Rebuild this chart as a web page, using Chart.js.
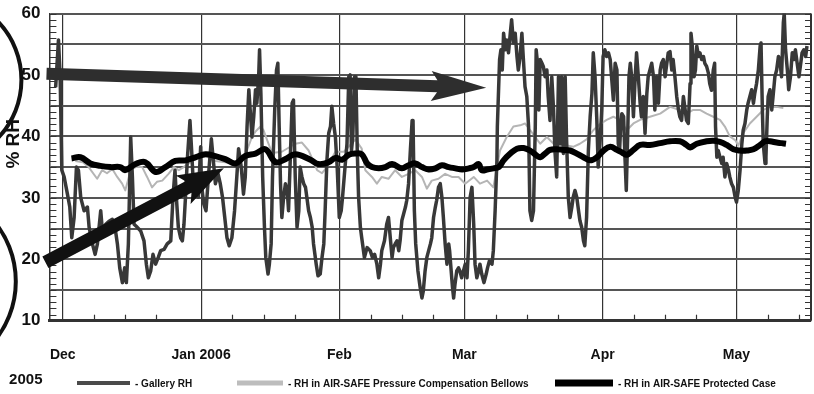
<!DOCTYPE html>
<html>
<head>
<meta charset="utf-8">
<script src="https://cdn.jsdelivr.net/npm/chart.js@4.4.0/dist/chart.umd.min.js"></script>
<style>
  html, body { margin: 0; padding: 0; background: #fff; }
  #wrap { width: 814px; height: 394px; }
</style>
</head>
<body>
<div id="wrap"><canvas id="chart"></canvas></div>
<script>
// x values are days counted from 1 Dec 2005
const monthDays = [0, 31, 62, 90, 121, 151];
const monthLabels = ["Dec", "Jan 2006", "Feb", "Mar", "Apr", "May"];
const weekOffsets = [7, 14, 21];

const galleryDays = [-1.6, -0.97, -0.6, -0.22, 0.3, 1.04, 1.57, 2.01, 2.54, 3.06, 3.5, 4.03, 4.78, 5.52, 5.9, 6.64, 7.24, 7.76, 8.5, 8.88,
  9.63, 10.37, 11.1, 11.7, 12.24, 12.76, 13.36, 13.88, 14.25, 14.7, 15.22, 15.6, 15.97, 16.7, 17.46, 18.2, 18.73, 19.18, 19.7, 20.22,
  20.8, 21.4, 21.94, 22.7, 23.4, 24.2, 24.7, 25.15, 25.45, 25.9, 26.4, 26.8, 27.16, 27.5, 27.9, 28.5, 28.88, 29.4, 29.78, 30.37,
  30.9, 31.06, 31.6, 32.1, 32.7, 33.3, 33.8, 34.2, 34.8, 35.3, 35.8, 36.3, 36.8, 37.3, 37.9, 38.5, 39.1, 39.4, 40.0, 40.5,
  40.9, 41.3, 41.7, 42.0, 42.4, 42.8, 43.2, 43.5, 43.9, 44.1, 44.4, 44.8, 45.2, 45.5, 46.0, 46.3, 46.7, 47.0, 47.5, 47.9,
  48.2, 48.5, 48.8, 49.1, 49.5, 49.9, 50.3, 50.6, 51.0, 51.4, 51.7, 52.1, 52.5, 52.9, 53.2, 53.6, 54.0, 54.4, 54.7, 55.1,
  55.5, 55.9, 56.2, 56.8, 57.2, 57.7, 58.1, 58.5, 58.8, 59.2, 59.6, 60.0, 60.3, 60.7, 61.1, 61.5, 61.97, 62.4, 62.7, 63.2,
  63.7, 64.1, 64.4, 64.7, 65.0, 65.4, 65.7, 66.0, 66.3, 66.7, 67.0, 67.6, 68.2, 68.9, 69.4, 69.9, 70.4, 70.8, 71.2, 71.5,
  72.1, 72.6, 73.0, 73.4, 73.8, 74.1, 74.5, 74.9, 75.3, 75.6, 76.0, 76.4, 76.8, 77.1, 77.5, 77.9, 78.3, 78.5, 78.8, 79.1,
  79.6, 80.1, 80.5, 80.8, 81.2, 81.6, 82.0, 82.4, 82.7, 83.1, 83.5, 83.8, 84.2, 84.6, 84.97, 85.3, 85.7, 86.1, 86.5, 86.7,
  87.05, 87.35, 87.6, 87.9, 88.3, 88.7, 89.0, 89.4, 89.8, 90.2, 90.6, 90.9, 91.3, 91.7, 92.1, 92.4, 92.8, 93.2, 93.5, 93.9,
  94.4, 94.9, 95.2, 95.6, 96.2, 96.5, 96.9, 97.3, 97.4, 97.9, 98.2, 98.5, 98.8, 99.2, 99.5, 99.9, 100.3, 100.6, 101.0, 101.4,
  101.8, 102.1, 102.5, 102.9, 103.2, 103.6, 104.0, 104.4, 104.7, 105.1, 105.5, 105.9, 106.1, 106.4, 106.7, 107.0, 107.4, 107.7, 108.1, 108.5,
  108.8, 109.2, 109.6, 110.0, 110.3, 110.7, 111.1, 111.5, 111.8, 112.2, 112.6, 112.9, 113.3, 113.7, 114.1, 114.4, 114.8, 115.2, 115.6, 115.9,
  116.3, 116.7, 117.0, 117.4, 117.8, 118.2, 118.6, 118.9, 119.3, 119.7, 120.0, 120.4, 120.8, 121.1, 121.5, 121.9, 122.3, 122.7, 123.0, 123.4,
  123.8, 124.2, 124.5, 124.8, 125.0, 125.3, 125.7, 126.0, 126.3, 126.6, 126.9, 127.2, 127.5, 127.9, 128.3, 128.6, 129.0, 129.4, 129.7, 130.1,
  130.5, 130.9, 131.2, 131.6, 132.0, 132.4, 132.7, 133.1, 133.5, 133.9, 134.2, 134.6, 135.0, 135.3, 135.7, 136.1, 136.5, 136.8, 137.2, 137.6,
  138.0, 138.3, 138.7, 139.1, 139.5, 139.8, 140.2, 140.6, 140.8, 141.1, 141.5, 141.8, 142.1, 142.5, 142.8, 143.2, 143.6, 143.9, 144.3, 144.7,
  145.0, 145.4, 145.8, 146.1, 146.3, 146.6, 146.9, 147.3, 147.7, 148.0, 148.4, 148.8, 149.2, 149.5, 149.9, 150.3, 150.7, 151.0, 151.4, 151.8,
  152.2, 152.5, 152.9, 153.3, 153.6, 154.0, 154.4, 154.8, 155.1, 155.5, 155.9, 156.3, 156.5, 156.8, 157.0, 157.4, 157.6, 157.9, 158.1, 158.5,
  158.9, 159.2, 159.6, 160.0, 160.4, 160.7, 161.1, 161.5, 161.7, 162.0, 162.4, 162.7, 163.1, 163.5, 163.9, 164.2, 164.6, 165.0, 165.4, 165.7,
  166.1, 166.5, 166.8];
const galleryRH = [48, 55.7, 50, 34.5, 33.4, 30.6, 28.5, 23.5, 26.8, 35, 34.5, 30, 27.9, 28.5, 25.2, 22.5, 20.8, 22.5, 27.9, 24.6,
  25.7, 26.2, 26.5, 25.2, 22.5, 18.6, 16.2, 18.6, 16.2, 22.5, 39.9, 33.4, 25.7, 25.2, 24.6, 23, 19.2, 17, 18.1, 20.8,
  19.2, 20.3, 21.4, 21.6, 22.5, 23, 30.1, 34.5, 30.1, 25.2, 23.5, 23, 25.7, 30.1, 36.1, 42.6, 37.7, 30.1, 33.4, 30.1,
  38.3, 32.3, 29, 27.9, 34, 39.6, 35.6, 32.3, 33.9, 32.3, 30.1, 26.8, 23.5, 22.2, 23.5, 27.9, 34.5, 38, 35, 30.6,
  33.4, 41.6, 47.6, 44.3, 39.9, 43.2, 47.6, 45.4, 49.7, 54.1, 47, 33.4, 25.2, 20.3, 17.6, 19.2, 22.5, 33.4, 44.3, 50.8,
  51.9, 41.6, 32.3, 26.8, 30.1, 32.3, 31.2, 27.9, 36.6, 45.4, 45.9, 33.4, 25.2, 27.9, 35, 33.4, 32.3, 31.7, 30.1, 27.9,
  26.8, 25.2, 22.5, 19.2, 17.3, 17.6, 20.3, 22.5, 27.9, 36.1, 40.5, 41.6, 44.9, 42.1, 39.9, 35, 26.8, 27.9, 30.1, 34.5,
  38.8, 49.7, 50, 37.7, 39.9, 49.7, 49.7, 37.7, 30.1, 25.2, 23.5, 20.3, 21.9, 21.4, 20.3, 20.8, 19.2, 17, 19.2, 21.4,
  23, 25.7, 26.8, 23.5, 20.3, 21.9, 22.5, 23, 21.4, 23, 26.3, 27.4, 28.5, 29.6, 32.3, 37.7, 42.6, 42.6, 27.9, 22.5,
  18.1, 15.4, 13.7, 14.8, 18.1, 20.3, 21.4, 22.5, 23.5, 26.8, 28.5, 29.6, 31.7, 32.3, 30.1, 26.8, 22.5, 19.2, 22.5, 21.4,
  18.1, 15.4, 13.7, 15.9, 18.1, 18.6, 18.1, 17, 18.1, 19.2, 17, 21.4, 30.1, 31.7, 25.7, 19.2, 17, 18.1, 19.2, 17.6,
  16.2, 17.6, 18.6, 19.7, 19.2, 21.4, 27.9, 36.1, 41.6, 52.5, 54.1, 50.8, 56.8, 54.1, 55.7, 53.6, 56.8, 59, 55.2, 56.8,
  53, 50.8, 53, 56.8, 53, 48.1, 46.5, 41.6, 27.9, 26.3, 27.9, 41.6, 54.1, 51.9, 44.3, 52.5, 51.9, 51.4, 49.7, 50.8,
  46.5, 42.6, 49.7, 44.3, 37.7, 33.4, 49.7, 38.8, 49.7, 37.2, 49.7, 39.9, 30.1, 26.8, 28.5, 30.1, 31.2, 30.1, 27.9, 26.3,
  25.2, 23, 22.2, 26.8, 37.7, 43.2, 47, 53.6, 49.7, 42.6, 35, 38.8, 44.3, 53, 54.1, 53, 53.6, 52.5, 49.7, 45.9,
  51.9, 50.8, 38.8, 37.7, 41, 43.7, 43.2, 36.6, 31.2, 39.9, 49.7, 51.9, 49.7, 43.2, 49.7, 53.6, 49.7, 45.4, 43.2, 46.5,
  40.5, 46.9, 49.7, 50.8, 51.9, 49.7, 44.3, 49.7, 45.4, 50.8, 51.9, 52.5, 49.7, 51.4, 53.6, 53.8, 50.8, 52.5, 49.7, 46.5,
  44.3, 43.2, 42.6, 46.5, 44.3, 42.6, 42.1, 48.6, 56.8, 54.7, 49.7, 50.8, 54.7, 53, 53.6, 52.5, 53, 51.9, 51.4, 50.3,
  48.6, 47.5, 50.8, 51.9, 41.6, 36.6, 37.7, 36.6, 35.6, 36.6, 33.4, 35.6, 34.5, 33.4, 32.3, 31.7, 30.1, 29.3, 31.2, 34.5,
  38.8, 41, 42.1, 44.3, 45.4, 46.5, 47.6, 45.4, 47, 48.6, 50.8, 54.7, 55.2, 44.3, 38.8, 35.6, 36.6, 43.2, 46.5, 47.6,
  44.3, 46.5, 49.7, 50.8, 53, 52.5, 49.7, 58.5, 60, 54.1, 50.8, 47.6, 49.7, 53.6, 52.5, 54.1, 51.9, 49.7, 51.9, 53.6,
  54.1, 53, 54.7];

const bellowsDays = [2.8, 4.5, 5.8, 7.7, 8.8, 9.9, 11.1, 12.2, 13.3, 14.0, 15.2, 16.3, 17.8, 18.9, 20.0, 21.1, 22.3, 23.7, 24.9, 26.0,
  27.1, 28.2, 30.5, 32.0, 34.2, 36.4, 38.7, 40.9, 42.4, 43.2, 44.3, 45.0, 45.8, 46.9, 49.1, 52.1, 53.6, 55.1, 57.0, 58.1,
  59.2, 61.1, 63.0, 65.6, 67.0, 67.8, 69.3, 70.4, 71.5, 73.0, 74.5, 76.0, 77.5, 79.0, 80.5, 81.6, 82.7, 84.2, 85.7, 87.2,
  88.7, 90.2, 92.1, 93.5, 95.1, 96.5, 98.0, 99.5, 101.0, 102.5, 103.6, 105.3, 107.0, 108.5, 110.0, 111.5, 113.0, 114.4, 115.9, 117.4,
  118.9, 120.4, 121.9, 123.4, 124.9, 126.4, 127.9, 129.4, 131.6, 133.9, 136.1, 138.3, 139.8, 141.3, 142.8, 144.3, 145.8, 147.3, 148.4, 149.5,
  150.7, 151.4, 152.5, 154.0, 155.5, 157.0, 158.5, 160.0, 161.5];
const bellowsRH = [36, 35.8, 35, 33.1, 34.5, 34, 34.7, 33.4, 32.3, 31.2, 34.5, 35, 35, 33.4, 31.7, 32.6, 32.8, 33.9, 35, 34.5,
  35, 35.6, 36.6, 36.8, 36, 35.8, 35.5, 37, 39.9, 40.8, 41.6, 41, 39.4, 37.3, 37.5, 38.8, 39, 37.7, 34.5, 34,
  35, 37.5, 37.5, 39.5, 38, 34.5, 33.4, 32.3, 33.4, 33.1, 34.5, 33.4, 33.9, 34.5, 33.4, 31.5, 32.8, 33.1, 33.9, 33.4,
  33.4, 32.3, 33.4, 32.3, 32.8, 31.7, 37.7, 39.9, 41.6, 41.8, 42.1, 40.5, 38.8, 39.9, 38.8, 38.3, 38.5, 38.3, 38.8, 39.5,
  41, 42, 42.7, 43.2, 42.7, 41, 42.1, 42.7, 43.2, 43.7, 44.8, 44.3, 43.7, 44.3, 44.3, 43.7, 43.2, 42.7, 41.6, 40,
  39.4, 38.5, 40.5, 42.1, 43.2, 44.3, 44.8, 44.8, 44.6];

const caseDays = [1.95, 3.96, 6.2, 8.4, 10.7, 12.9, 14.0, 16.3, 18.5, 20.8, 23.0, 25.2, 27.5, 29.7, 32.0, 34.2, 36.4, 38.7, 40.9, 43.2,
  45.4, 47.7, 49.9, 52.1, 55.5, 57.3, 59.6, 61.1, 62.6, 64.1, 65.6, 67.0, 68.2, 69.3, 70.8, 72.3, 73.8, 76.0, 77.5, 79.0,
  80.5, 82.0, 83.5, 85.0, 86.5, 88.0, 89.5, 91.0, 92.1, 93.2, 93.9, 95.1, 96.5, 97.7, 98.8, 100.3, 101.8, 103.3, 104.7, 106.2,
  107.0, 108.1, 109.2, 110.7, 112.2, 113.7, 115.2, 116.7, 118.2, 119.7, 121.2, 122.7, 124.2, 125.5, 126.4, 127.9, 129.4, 131.6, 133.9, 136.1,
  138.3, 139.8, 140.6, 142.1, 144.3, 145.8, 147.3, 148.8, 150.3, 151.8, 153.3, 154.8, 156.3, 157.4, 158.5, 160.0, 161.1, 162.1];
const caseRH = [36.4, 36.6, 35.6, 35.2, 35, 35, 34.5, 35.5, 35.8, 34.2, 35, 36, 36.1, 36.6, 37.1, 36.8, 36.3, 35.6, 36.8, 37.2,
  37.9, 35.8, 36.3, 37.1, 36.2, 35.5, 35.8, 36.5, 36.2, 37, 37.2, 37.1, 35.6, 35, 34.8, 35, 35.5, 34.8, 35.3, 35.6,
  35, 34.6, 34.8, 35.3, 35, 34.8, 34.6, 34.8, 35, 35.5, 34.5, 34.6, 34.8, 35, 36.1, 37.2, 38, 38.1, 37.7, 36.9,
  36.6, 37.2, 37.8, 37.9, 37.8, 37.7, 37.2, 36.6, 36.1, 36.6, 37.7, 38.3, 37.8, 37.3, 37, 37.8, 38.6, 38.6, 38.9, 39.2,
  39.2, 38.6, 38.2, 38.8, 39.2, 39.3, 39.1, 38.6, 37.9, 37.7, 37.7, 37.9, 38.6, 39.2, 39.2, 39, 38.9, 38.8];

const seriesNames = ["- Gallery RH", "- RH in AIR-SAFE Pressure Compensation Bellows", "- RH in AIR-SAFE Protected Case"];

const FONT = "'Liberation Sans Narrow', 'Arial Narrow', 'Liberation Sans', Arial, sans-serif";

function toPoints(xs, ys) {
  return xs.map((x, i) => ({ x: x, y: ys[i] }));
}

// marker arrows and circles drawn over the plot (in data units)
const arrows = [
  { from: [-3.65, 50.2], to: [94.9, 47.9], shaft: 12, head: 55, half: 15, color: "#2e2e2e" },
  { from: [-3.9, 19.5], to: [36.1, 34.8], shaft: 13, head: 46, half: 16, color: "#111" }
];
const circles = [
  { c: [-28.1, 49.2], r: 84 },
  { c: [-31.6, 16.4], r: 94 }
];

// legend layout: where each sample line starts, its length and thickness
const legendX = [77, 237, 555];
const legendLen = [53, 46, 58];
const legendWidth = [4, 5, 7];
const legendColor = ['#4a4a4a', '#bdbdbd', '#000'];

function drawArrow(ctx, x1, y1, x2, y2, a) {
  const ang = Math.atan2(y2 - y1, x2 - x1);
  const L = Math.hypot(x2 - x1, y2 - y1);
  ctx.save();
  ctx.translate(x1, y1);
  ctx.rotate(ang);
  ctx.fillStyle = a.color;
  ctx.beginPath();
  ctx.moveTo(0, -a.shaft / 2);
  ctx.lineTo(L - a.head + 6, -a.shaft / 2);
  ctx.lineTo(L - a.head, -a.half);
  ctx.lineTo(L, 0);
  ctx.lineTo(L - a.head, a.half);
  ctx.lineTo(L - a.head + 6, a.shaft / 2);
  ctx.lineTo(0, a.shaft / 2);
  ctx.closePath();
  ctx.fill();
  ctx.restore();
}

const extras = {
  id: 'extras',
  beforeDatasetsDraw(chart) {
    const ctx = chart.ctx, a = chart.chartArea;
    const xs = chart.scales.x, ys = chart.scales.y;
    ctx.save();
    ctx.strokeStyle = '#333';
    ctx.lineWidth = 1.2;
    // ruler ticks on left and right edges
    for (let v = ys.min; v <= ys.max; v++) {
      const py = Math.round(ys.getPixelForValue(v)) + 0.5;
      ctx.beginPath();
      ctx.moveTo(a.left, py); ctx.lineTo(a.left + 7, py);
      ctx.moveTo(a.right - 6, py); ctx.lineTo(a.right, py);
      ctx.stroke();
    }
    // weekly ticks on the bottom axis
    monthDays.forEach(m => {
      weekOffsets.forEach(w => {
        if (m + w > xs.max) return;
        const px = Math.round(xs.getPixelForValue(m + w)) + 0.5;
        ctx.beginPath();
        ctx.moveTo(px, a.bottom); ctx.lineTo(px, a.bottom - 6);
        ctx.stroke();
      });
    });
    // right border
    ctx.lineWidth = 2;
    ctx.beginPath();
    ctx.moveTo(a.right, a.top); ctx.lineTo(a.right, a.bottom);
    ctx.stroke();
    ctx.restore();
  },
  afterDatasetsDraw(chart) {
    const ctx = chart.ctx;
    const xs = chart.scales.x, ys = chart.scales.y;
    arrows.forEach(ar => {
      drawArrow(ctx, xs.getPixelForValue(ar.from[0]), ys.getPixelForValue(ar.from[1]),
        xs.getPixelForValue(ar.to[0]), ys.getPixelForValue(ar.to[1]), ar);
    });
    ctx.save();
    ctx.strokeStyle = '#111';
    ctx.lineWidth = 4;
    circles.forEach(c => {
      ctx.beginPath();
      ctx.arc(xs.getPixelForValue(c.c[0]), ys.getPixelForValue(c.c[1]), c.r, 0, Math.PI * 2);
      ctx.stroke();
    });
    ctx.restore();
  },
  afterDraw(chart) {
    const ctx = chart.ctx;
    const xs = chart.scales.x, ys = chart.scales.y;
    ctx.save();
    ctx.fillStyle = '#111';
    // y axis title
    ctx.font = "bold 19px " + FONT;
    ctx.translate(xs.left - 36, ys.getPixelForValue(38.8));
    ctx.rotate(-Math.PI / 2);
    ctx.textAlign = 'center';
    ctx.textBaseline = 'middle';
    ctx.fillText('% RH', 0, 0);
    ctx.restore();

    // year under the first month, then the legend on the same line
    const ly = 383;
    ctx.save();
    ctx.fillStyle = '#111';
    ctx.font = "bold 15px " + FONT;
    ctx.textAlign = 'center';
    ctx.textBaseline = 'middle';
    ctx.fillText('2005', xs.getPixelForValue(monthDays[0]) - 37, ly - 3);
    ctx.font = "bold 10px " + FONT;
    ctx.textAlign = 'left';
    seriesNames.forEach((name, i) => {
      ctx.strokeStyle = legendColor[i];
      ctx.lineWidth = legendWidth[i];
      ctx.beginPath();
      ctx.moveTo(legendX[i], ly);
      ctx.lineTo(legendX[i] + legendLen[i], ly);
      ctx.stroke();
      ctx.fillText(name, legendX[i] + legendLen[i] + 5, ly + 1);
    });
    ctx.restore();
  }
};

new Chart(document.getElementById('chart'), {
  type: 'line',
  data: {
    datasets: [
      { label: seriesNames[0], data: toPoints(galleryDays, galleryRH), borderColor: '#383838',
        borderWidth: 3.5, pointRadius: 0, tension: 0, order: 1 },
      { label: seriesNames[1], data: toPoints(bellowsDays, bellowsRH), borderColor: '#b5b5b5',
        borderWidth: 2, pointRadius: 0, tension: 0, order: 2 },
      { label: seriesNames[2], data: toPoints(caseDays, caseRH), borderColor: '#000',
        borderWidth: 6, pointRadius: 0, tension: 0.4, order: 0 }
    ]
  },
  options: {
    responsive: true,
    maintainAspectRatio: false,
    animation: false,
    borderJoinStyle: 'round',
    layout: { padding: { left: 12.5, right: 3, top: 0, bottom: 4.5 } },
    plugins: {
      tooltip: { enabled: false },
      legend: { display: false }
    },
    scales: {
      x: {
        type: 'linear',
        min: -3,
        max: 167.7,
        afterBuildTicks(scale) {
          scale.ticks = monthDays.map(v => ({ value: v }));
        },
        ticks: {
          autoSkip: false,
          maxRotation: 0,
          padding: 26,
          color: '#111',
          font: { family: FONT, size: 14, weight: 'bold' },
          callback: v => monthLabels[monthDays.indexOf(v)]
        },
        grid: { color: '#333', lineWidth: 1.2, drawTicks: false },
        border: { color: '#333', width: 3 }
      },
      y: {
        min: 10,
        max: 60,
        afterFit(scale) {
          scale.paddingTop = 13.5;
        },
        ticks: {
          stepSize: 5,
          autoSkip: false,
          padding: 9,
          color: '#111',
          font: { family: FONT, size: 17, weight: 'bold' },
          callback: v => (v % 10 === 0 ? v : '')
        },
        grid: { color: '#555', lineWidth: 2, drawTicks: false },
        border: { color: '#333', width: 1.5 }
      }
    }
  },
  plugins: [extras]
});
</script>
</body>
</html>
